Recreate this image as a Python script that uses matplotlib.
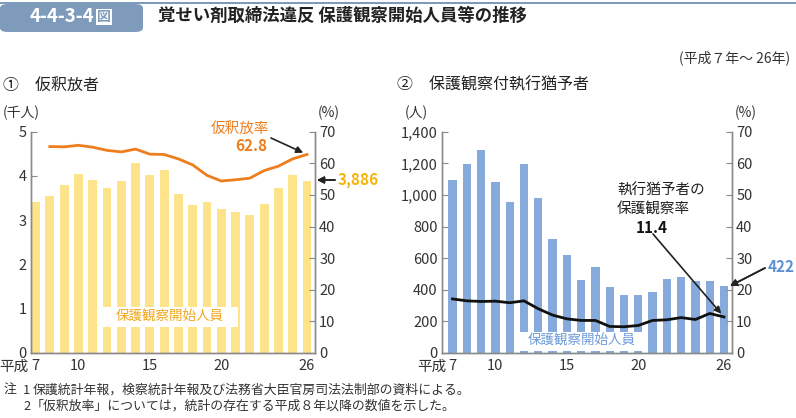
import matplotlib.pyplot as plt
from matplotlib.patches import Rectangle, FancyBboxPatch

plt.rcParams['font.family'] = ['Noto Sans CJK JP', 'DejaVu Sans']

# years (Heisei 7 - 26)
years = list(range(7, 27))
xtick_pos = [7, 10, 15, 20, 26]
xtick_lbl = ['7', '10', '15', '20', '26']

# (1) parolees, thousands
parole_n = [3.41, 3.55, 3.80, 4.05, 3.92, 3.73, 3.89, 4.30, 4.02, 4.14,
            3.60, 3.35, 3.41, 3.25, 3.18, 3.11, 3.37, 3.72, 4.02, 3.886]
# parole rate (%) from H8
rate_years = list(range(8, 27))
parole_rate = [65.3, 65.2, 65.7, 65.1, 64.1, 63.6, 64.5, 62.9, 62.8, 61.4,
               59.5, 56.2, 54.4, 54.8, 55.3, 57.7, 59.1, 61.4, 62.8]

# (2) suspended sentence with probation, persons
susp_n = [1095, 1194, 1282, 1084, 956, 1198, 983, 724, 617, 461,
          541, 415, 368, 368, 385, 465, 482, 453, 457, 422]
susp_rate = [17.1, 16.5, 16.3, 16.4, 15.9, 16.5, 14.0, 12.0, 10.8, 10.3,
             10.3, 8.4, 8.3, 8.7, 10.3, 10.5, 11.2, 10.6, 12.5, 11.4]

W, H = 796, 418
fig = plt.figure(figsize=(W / 100, H / 100), dpi=100)


def px_axes(x0, y0, x1, y1):
    return fig.add_axes([x0 / W, 1 - y1 / H, (x1 - x0) / W, (y1 - y0) / H])


def fig_text(x, y, s, **kw):
    fig.text(x / W, 1 - y / H, s, **kw)


grey = '#8a8a8a'
tickc = '#333333'


def style(ax, twin):
    for a in (ax, twin):
        a.spines['top'].set_visible(False)
        for s in ('left', 'right', 'bottom'):
            a.spines[s].set_color(grey)
            a.spines[s].set_linewidth(1.0)
        a.tick_params(direction='in', length=4, color=grey, labelsize=10.5,
                      labelcolor=tickc, pad=3)
    ax.set_xticks(xtick_pos)
    ax.set_xticklabels(xtick_lbl)
    ax.tick_params(axis='x', length=0, pad=4)


# ---- header ----
fig.add_artist(Rectangle((0, 1 - 4 / H), 1, 2 / H, transform=fig.transFigure,
                         color='#7f9bbb', lw=0))
fig.add_artist(FancyBboxPatch((0, 1 - 32 / H), 143 / W, 28 / H,
                              boxstyle='round,pad=0,rounding_size=0.01',
                              transform=fig.transFigure, color='#7f9bbb', lw=0))
fig_text(30, 17, '4-4-3-4', color='white', fontsize=13.5, fontweight='bold', va='center')
fig_text(97, 17, '図', color='#7f9bbb', fontsize=10, fontweight='bold', va='center',
         bbox=dict(boxstyle='square,pad=0.08', fc='white', ec='none'))
fig_text(158, 16, '覚せい剤取締法違反 保護観察開始人員等の推移', fontsize=12.5,
         fontweight='bold', va='center', color='#222222')
fig_text(790, 58, '(平成７年～ 26年)', fontsize=10, ha='right', va='center', color='#333333')

# ---- (1) parolees ----
ax1 = px_axes(31, 131.7, 315, 353)
ax1.bar(years, parole_n, width=0.62, color='#fde38a', zorder=2)
ax1.set_ylim(0, 5)
ax1.set_xlim(6.685, 26.56)
ax1.set_yticks(range(0, 6))
t1 = ax1.twinx()
t1.plot(rate_years, parole_rate, color='#ee7d1c', lw=2.0, zorder=3)
t1.set_ylim(0, 70)
t1.set_yticks(range(0, 71, 10))
style(ax1, t1)

fig_text(3, 85, '①　仮釈放者', fontsize=11.5, va='center', color='#222222')
fig_text(3, 113, '(千人)', fontsize=10, va='center', color='#333333')
fig_text(318, 113, '(%)', fontsize=10, va='center', color='#333333')
fig_text(29, 367, '平成', fontsize=10.5, ha='right', va='center', color=tickc)
fig_text(240, 129, '仮釈放率', fontsize=10.5, ha='center', va='center', color='#ee7d1c')
fig_text(267, 146, '62.8', fontsize=11, ha='right', va='center', color='#ee7d1c',
         fontweight='bold')
t1.annotate('', xy=(26, 62.8), xycoords='data',
            xytext=(271 / W, 1 - 138 / H), textcoords='figure fraction',
            arrowprops=dict(arrowstyle='-|>', color='#222222', lw=1.2,
                            mutation_scale=10, shrinkA=0, shrinkB=3))
fig_text(338, 180, '3,886', fontsize=11, va='center', color='#f5b50c', fontweight='bold')
fig.add_artist(plt.annotate('', xy=(317 / W, 1 - 180 / H), xycoords='figure fraction',
                            xytext=(335 / W, 1 - 180 / H), textcoords='figure fraction',
                            arrowprops=dict(arrowstyle='-|>', color='#222222', lw=1.2,
                                            mutation_scale=10, shrinkA=0, shrinkB=0)))
fig.add_artist(Rectangle((102 / W, 1 - 327 / H), 136 / W, 20 / H,
                         transform=fig.transFigure, fc='white', ec='none'))
fig_text(170, 317, '保護観察開始人員', fontsize=9.7, ha='center', va='center',
         color='#f0a81e')

# ---- (2) suspended sentence with probation ----
ax2 = px_axes(442, 131.7, 732, 353)
ax2.bar(years, susp_n, width=0.58, color='#87aadd', zorder=2)
ax2.set_ylim(0, 1400)
ax2.set_xlim(6.265, 26.56)
ax2.set_yticks(range(0, 1401, 200))
ax2.set_yticklabels([f'{v:,}' for v in range(0, 1401, 200)])
t2 = ax2.twinx()
t2.plot(years, susp_rate, color='#111111', lw=2.0, zorder=3)
t2.set_ylim(0, 70)
t2.set_yticks(range(0, 71, 10))
style(ax2, t2)

fig_text(397, 85, '②　保護観察付執行猶予者', fontsize=11.5, va='center', color='#222222')
fig_text(405, 113, '(人)', fontsize=10, va='center', color='#333333')
fig_text(735, 113, '(%)', fontsize=10, va='center', color='#333333')
fig_text(446, 367, '平成', fontsize=10.5, ha='right', va='center', color=tickc)
fig_text(617, 191, '執行猶予者の', fontsize=10.5, va='center', color='#222222')
fig_text(617, 210, '保護観察率', fontsize=10.5, va='center', color='#222222')
fig_text(652, 228, '11.4', fontsize=11, ha='center', va='center', color='#111111',
         fontweight='bold')
t2.annotate('', xy=(26, 11.4), xycoords='data',
            xytext=(653 / W, 1 - 234 / H), textcoords='figure fraction',
            arrowprops=dict(arrowstyle='-|>', color='#222222', lw=1.2,
                            mutation_scale=10, shrinkA=0, shrinkB=3))
fig_text(768, 267, '422', fontsize=11, va='center', color='#5b90d6', fontweight='bold')
fig.add_artist(plt.annotate('', xy=(730 / W, 1 - 286 / H), xycoords='figure fraction',
                            xytext=(765 / W, 1 - 268 / H), textcoords='figure fraction',
                            arrowprops=dict(arrowstyle='-|>', color='#222222', lw=1.2,
                                            mutation_scale=10, shrinkA=0, shrinkB=0)))
fig.add_artist(Rectangle((518 / W, 1 - 351 / H), 129 / W, 19 / H,
                         transform=fig.transFigure, fc='white', ec='none'))
fig_text(582, 341, '保護観察開始人員', fontsize=9.7, ha='center', va='center',
         color='#6f9bd8')

# ---- notes ----
note_fs = 9.3
fig_text(4, 390, '注', fontsize=note_fs, va='center', color='#333333')
fig_text(23, 390, '1', fontsize=note_fs, va='center', color='#333333')
fig_text(33, 390, '保護統計年報，検察統計年報及び法務省大臣官房司法法制部の資料による。',
         fontsize=note_fs, va='center', color='#333333')
fig_text(23, 406, '2', fontsize=note_fs, va='center', color='#333333')
fig_text(31, 406, '「仮釈放率」については，統計の存在する平成８年以降の数値を示した。',
         fontsize=note_fs, va='center', color='#333333')

fig.savefig('out.png', dpi=100)
